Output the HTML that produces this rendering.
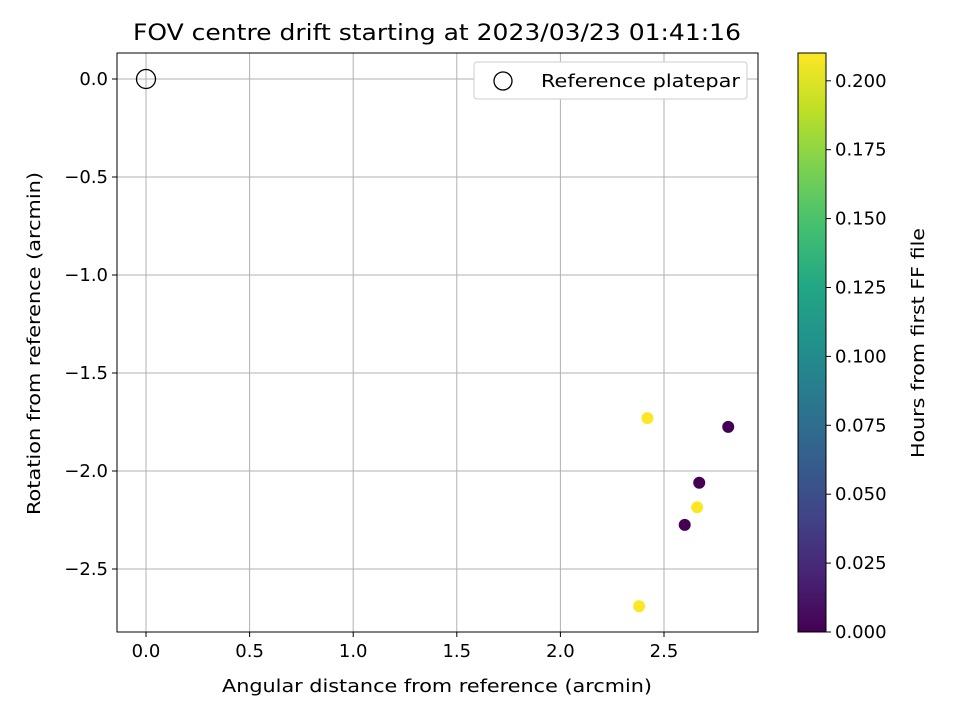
<!DOCTYPE html>
<html><head><meta charset="utf-8"><style>
body{margin:0;background:#fff;font-family:"Liberation Sans","DejaVu Sans",sans-serif;}
svg text{font-family:"DejaVu Sans","Liberation Sans",sans-serif;fill:#000;}
</style></head><body>
<svg id="chart" width="960" height="720" xmlns="http://www.w3.org/2000/svg">
<defs><linearGradient id="vir" x1="0" y1="1" x2="0" y2="0">
<stop offset="0" stop-color="#440154"/><stop offset="0.1" stop-color="#482475"/><stop offset="0.2" stop-color="#414487"/><stop offset="0.3" stop-color="#355f8d"/><stop offset="0.4" stop-color="#2a788e"/><stop offset="0.5" stop-color="#21918c"/><stop offset="0.6" stop-color="#22a884"/><stop offset="0.7" stop-color="#44bf70"/><stop offset="0.8" stop-color="#7ad151"/><stop offset="0.9" stop-color="#bddf26"/><stop offset="1" stop-color="#fde725"/>
</linearGradient></defs>
<text x="133" y="40" font-size="22" textLength="608" lengthAdjust="spacingAndGlyphs">FOV centre drift starting at 2023/03/23 01:41:16</text>
<g id="grid"></g><g id="axes"></g><g id="pts"></g>
<rect x="117" y="53" width="641" height="579" fill="none" stroke="#000" stroke-width="1"/>
<text x="222" y="692" font-size="18" textLength="430" lengthAdjust="spacingAndGlyphs">Angular distance from reference (arcmin)</text>
<text transform="translate(40,515) rotate(-90)" font-size="18" textLength="343" lengthAdjust="spacingAndGlyphs">Rotation from reference (arcmin)</text>
<g>
<rect x="474" y="62" width="273" height="37" rx="3" fill="#fff" stroke="#ccc"/>
<circle cx="503" cy="81" r="9" fill="none" stroke="#000" stroke-width="1.3"/>
<text x="541" y="87" font-size="18" textLength="199" lengthAdjust="spacingAndGlyphs">Reference platepar</text>
</g>
<rect x="798" y="53" width="28" height="579" fill="url(#vir)" stroke="#000"/>
<g id="cbticks"></g>
<text transform="translate(924,458) rotate(-90)" font-size="18" textLength="230" lengthAdjust="spacingAndGlyphs">Hours from first FF file</text>
</svg>
<script>
const xTicks=[0,0.5,1.0,1.5,2.0,2.5];
const yTicks=[0,-0.5,-1.0,-1.5,-2.0,-2.5];
const cTicks=[0,0.025,0.05,0.075,0.1,0.125,0.15,0.175,0.2];
const ptX=[2.42,2.81,2.67,2.66,2.60,2.38];
const ptY=[-1.73,-1.775,-2.06,-2.185,-2.275,-2.69];
const ptT=[0.21,0,0,0.21,0,0.21];
const refX=[0],refY=[0];
const sx=v=>146+v*207.2, sy=v=>79-v*196, sc=v=>632-v*2756;
const NS='http://www.w3.org/2000/svg';
function mk(t,a,p,txt){const e=document.createElementNS(NS,t);for(const k in a)e.setAttribute(k,a[k]);if(txt!==undefined)e.textContent=txt;p.appendChild(e);return e;}
const G=document.getElementById('grid'),A=document.getElementById('axes'),P=document.getElementById('pts'),C=document.getElementById('cbticks');
const fmt=v=>(v<0?'\u2212':'')+Math.abs(v).toFixed(1);
xTicks.forEach(v=>{const x=sx(v);
 const l=mk('line',{x1:x,x2:x,y1:53,y2:632,stroke:'#b0b0b0','stroke-width':1},G);
 
 mk('line',{x1:x,x2:x,y1:632,y2:637,stroke:'#000'},A);
 const t=mk('text',{x:x,y:657,'font-size':18,'text-anchor':'middle'},A,v.toFixed(1));
 });
yTicks.forEach(v=>{const y=sy(v);
 const l=mk('line',{x1:117,x2:758,y1:y,y2:y,stroke:'#b0b0b0','stroke-width':1},G);
 
 mk('line',{x1:112,x2:117,y1:y,y2:y,stroke:'#000'},A);
 const t=mk('text',{x:108,y:y+6,'font-size':18,'text-anchor':'end'},A,fmt(v));
 });
cTicks.forEach(v=>{const y=sc(v);
 mk('line',{x1:826,x2:831,y1:y,y2:y,stroke:'#000'},C);
 const t=mk('text',{x:835,y:y+6,'font-size':18},C,v.toFixed(3));
 });
const r=mk('circle',{cx:sx(refX[0]),cy:sy(refY[0]),r:9.5,fill:'none',stroke:'#000','stroke-width':1.3},P);

function vir(t){const s=[[68,1,84],[72,36,117],[65,68,135],[53,95,141],[42,120,142],[33,145,140],[34,168,132],[68,191,112],[122,209,81],[189,223,38],[253,231,37]];
 const f=Math.max(0,Math.min(1,t/0.21))*10,i=Math.min(9,Math.floor(f)),u=f-i;
 return 'rgb('+s[i].map((c,k)=>Math.round(c+(s[i+1][k]-c)*u)).join(',')+')';}
ptX.forEach((v,i)=>{const c=mk('circle',{cx:sx(v),cy:sy(ptY[i]),r:6,fill:vir(ptT[i])},P);
 });
</script>
</body></html>
